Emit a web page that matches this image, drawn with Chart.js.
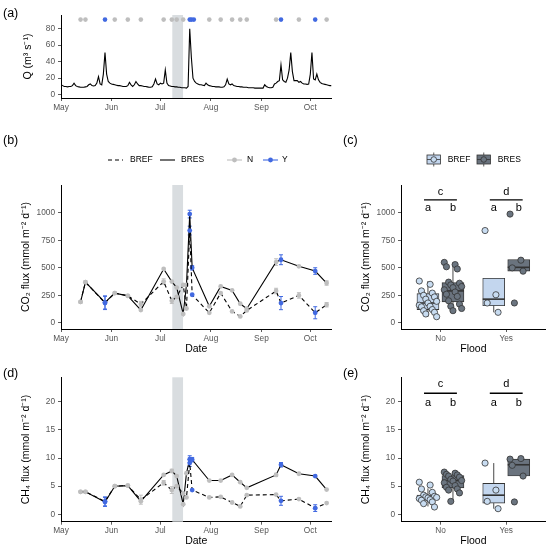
<!DOCTYPE html>
<html>
<head>
<meta charset="utf-8">
<title>Discharge and CO2 / CH4 fluxes</title>
<script src="https://cdn.jsdelivr.net/npm/chart.js@4.4.1/dist/chart.umd.min.js"></script>
<style>
  html, body { margin: 0; padding: 0; background: #fff; }
  #fig { position: relative; width: 550px; height: 549px; overflow: hidden; font-family: "Liberation Sans", Arial, sans-serif; }
  #fig canvas { position: absolute; }
  .panel { position: absolute; font-size: 12.5px; line-height: 14px; color: #000; z-index: 2; }
</style>
</head>
<body>
<div id="fig">
  <canvas id="qChart" width="340" height="115" style="left:0;top:0"></canvas>
  <canvas id="co2Line" width="340" height="225" style="left:0;top:135px"></canvas>
  <canvas id="co2Box" width="210" height="225" style="left:340px;top:135px"></canvas>
  <canvas id="ch4Line" width="340" height="189" style="left:0;top:360px"></canvas>
  <canvas id="ch4Box" width="210" height="189" style="left:340px;top:360px"></canvas>
  <div class="panel" style="left:3px;top:6px">(a)</div>
  <div class="panel" style="left:3px;top:133px">(b)</div>
  <div class="panel" style="left:343px;top:133px">(c)</div>
  <div class="panel" style="left:3px;top:366px">(d)</div>
  <div class="panel" style="left:343px;top:366px">(e)</div>
</div>
<script>
// ---- data (days counted from 1 May) ----
const monthDays = [0, 31, 61, 92, 123, 153];
const monthLabels = ['May', 'Jun', 'Jul', 'Aug', 'Sep', 'Oct'];
const pulseStart = 68.3;
const pulseEnd = 74.9;

// daily discharge Q (m3 s-1)
const discharge = [
  12, 11, 10, 10, 9.5, 10, 10, 11, 14, 11,
  10, 9.5, 9, 9, 9, 9.5, 10, 12, 13, 11,
  10.5, 11, 14, 22, 13, 12, 25, 51, 25, 16,
  14, 13, 12.5, 12, 11.5, 11, 11, 10.5, 10, 10,
  10, 11, 15, 12, 10, 12, 16, 13, 11, 11,
  10.5, 10, 10, 9.5, 9, 9, 9.5, 13, 19, 13,
  12, 14, 13, 14, 30, 14, 11, 10.5, 10, 10,
  9.5, 9.5, 9, 9, 8.5, 8.5, 8.5, 8, 10, 80,
  45, 20, 16, 14, 13, 12, 12, 11.5, 11, 14,
  12, 11, 10.5, 10, 10, 9.5, 9.5, 9.5, 9, 9,
  9.5, 12, 19, 13, 12, 13, 11, 10.5, 10, 10,
  9.5, 9.5, 9, 9, 9, 8.5, 8.5, 8.5, 8.5, 8,
  8, 8, 8, 8, 8, 12, 10, 9, 8.5, 8.5,
  9, 13, 14, 16, 17, 36, 18, 16, 15, 20,
  30, 51, 28, 17, 17, 17, 15, 16, 14, 13,
  13, 12.5, 13, 25, 51, 19, 18, 25, 18, 15,
  13.5, 13, 12.5, 12, 11.5, 11, 11
];

// sampling dates marked on top of panel (a)
const qSampleDays = [12, 15, 27, 33, 41, 49, 63, 68, 71, 75, 79, 80, 81.5, 91, 98, 105, 110, 114, 132, 135, 146, 156, 163];
const qSampleFlood = ['N', 'N', 'Y', 'N', 'N', 'N', 'N', 'N', 'N', 'N', 'Y', 'Y', 'Y', 'N', 'N', 'N', 'N', 'N', 'N', 'Y', 'N', 'Y', 'N'];
const qSampleLevel = 91;

// flux time series
const seriesNames = ['BREF', 'BRES'];
const floodNames = ['N', 'Y'];
const fluxDays = [12, 15, 27, 33, 41, 49, 63, 68, 71, 75, 77, 79, 80.5, 91, 98, 105, 110, 114, 132, 135, 146, 156, 163];
const fluxFlood = ['N', 'N', 'Y', 'N', 'N', 'N', 'N', 'N', 'N', 'N', 'N', 'Y', 'Y', 'N', 'N', 'N', 'N', 'N', 'N', 'Y', 'N', 'Y', 'N'];
const co2Bref = [190, 370, 180, 270, 245, 170, 375, 200, 235, 345, 130, 840, 255, 90, 270, 103, 58, 112, 289, 179, 249, 91, 164];
const co2Bres = [190, 370, 185, 270, 245, 115, 490, 375, 320, 80, 345, 990, 500, 150, 331, 295, 173, 128, 553, 574, 514, 471, 362];
const co2BrefSe = [0, 0, 60, 0, 0, 25, 25, 25, 0, 0, 0, 40, 0, 0, 0, 0, 0, 0, 25, 60, 25, 55, 20];
const co2BresSe = [0, 0, 60, 0, 0, 0, 0, 0, 0, 0, 0, 35, 20, 0, 0, 0, 0, 0, 30, 45, 0, 30, 20];
const ch4Bref = [4.0, 4.0, 2.3, 5.0, 5.1, 2.6, 5.6, 4.3, 5.0, 3.7, 3.0, 9.1, 4.3, 3.0, 3.1, 2.1, 1.4, 3.4, 3.5, 2.4, 2.7, 1.1, 2.0];
const ch4Bres = [4.0, 4.0, 2.2, 5.0, 5.1, 2.3, 7.0, 7.7, 6.8, 1.8, 7.3, 9.8, 9.7, 6.0, 6.0, 7.0, 5.7, 4.7, 7.0, 8.8, 7.2, 6.8, 4.4];
const ch4BrefSe = [0, 0, 0.8, 0, 0, 0.8, 0.4, 0.6, 0, 0, 0, 0.6, 0, 0, 0, 0, 0, 0, 0, 0.8, 0, 0.6, 0];
const ch4BresSe = [0, 0, 0.8, 0, 0, 0, 0, 0.3, 0, 0, 0, 0.6, 0.4, 0, 0, 0, 0, 0, 0.3, 0.4, 0, 0, 0];

// box plots by flood (order: No-BREF, No-BRES, Yes-BREF, Yes-BRES)
const floodLabels = ['No', 'Yes'];
const groupLetters = ['c', 'd'];
const siteLetters = ['a', 'b'];
const co2NoBref = [380, 350, 290, 270, 250, 235, 215, 195, 180, 160, 150, 145, 120, 110, 95, 80, 55];
const co2NoBres = [550, 530, 510, 490, 370, 360, 345, 330, 320, 300, 280, 260, 240, 200, 170, 150, 130, 110];
const co2YesBref = [840, 255, 180, 95];
const co2YesBres = [990, 570, 500, 470, 180];
const co2Q1 = [120, 190, 155, 470];
const co2Median = [180, 290, 215, 505];
const co2Q3 = [265, 365, 405, 575];
const co2WhiskerLow = [55, 110, 95, 470];
const co2WhiskerHigh = [380, 550, 405, 575];

const ch4NoBref = [5.7, 5.2, 4.5, 3.9, 3.4, 3.2, 3.1, 3.0, 2.9, 2.8, 2.6, 2.5, 2.2, 1.9, 1.3];
const ch4NoBres = [7.5, 7.3, 7.1, 7.0, 6.8, 6.6, 6.2, 6.0, 5.9, 5.6, 5.1, 4.8, 4.5, 4.3, 3.8, 2.3];
const ch4YesBref = [9.1, 4.3, 2.3, 1.0];
const ch4YesBres = [9.8, 9.9, 8.7, 6.8, 2.2];
const ch4Q1 = [2.6, 4.7, 2.0, 6.8];
const ch4Median = [3.1, 6.0, 3.4, 8.8];
const ch4Q3 = [3.4, 6.9, 5.5, 9.8];
const ch4WhiskerLow = [1.4, 2.3, 1.0, 6.8];
const ch4WhiskerHigh = [4.6, 7.6, 9.1, 9.9];

// ---- styling ----
const GREY = '#bebebe';
const BLUE = '#4169e1';
const REF_FILL = '#c3d6ee';
const RES_FILL = '#6a737e';
const REF_POINT = '#c8dcf1';
const RES_POINT = '#6b7580';
const TICK_COLOR = '#555';
const FONT = '"Liberation Sans", Arial, sans-serif';
const DODGE = 0.19;
const boxX = [1 - DODGE, 1 + DODGE, 2 - DODGE, 2 + DODGE];

Chart.defaults.font.family = FONT;
Chart.defaults.animation = false;
Chart.defaults.responsive = false;
Chart.defaults.maintainAspectRatio = false;
Chart.defaults.plugins.legend.display = false;
Chart.defaults.plugins.tooltip.enabled = false;
Chart.defaults.layout.autoPadding = false;

function axisCommon() {
  return {
    grid: {display: true, drawOnChartArea: false, drawTicks: true, tickLength: 3, tickColor: '#333', tickWidth: 0.8, offset: false},
    border: {display: true, color: '#000', width: 1}
  };
}

function valueAxis(min, max, tickValues, title, titlePad) {
  return Object.assign(axisCommon(), {
    type: 'linear', min: min, max: max,
    afterBuildTicks: s => { s.ticks = tickValues.map(v => ({value: v})); },
    afterFit: s => { s.width = 61; s.paddingTop = 0; s.paddingBottom = 0; },
    ticks: {color: TICK_COLOR, font: {size: 8.3}, padding: 3, callback: v => String(v)},
    title: {display: true, text: title, color: '#000', font: {size: 10.5}, padding: {top: titlePad, bottom: 0}}
  });
}

function bottomAxis(min, max, tickValues, tickLabels, height, title, titlePad) {
  return Object.assign(axisCommon(), {
    type: 'linear', min: min, max: max, offset: false,
    afterBuildTicks: s => { s.ticks = tickValues.map(v => ({value: v})); },
    afterFit: s => { s.height = height; s.paddingLeft = 0; s.paddingRight = 0; },
    ticks: {color: TICK_COLOR, font: {size: 8.3}, padding: 1.5, maxRotation: 0, autoSkip: false,
            callback: (v, i) => tickLabels[i]},
    title: {display: !!title, text: title || '', color: '#000', font: {size: 10.5}, padding: {top: 0, bottom: titlePad}}
  });
}

// grey band for the flood pulse
const pulseShade = {
  id: 'pulseShade',
  beforeDatasetsDraw(chart) {
    const {ctx, chartArea: a, scales: {x}} = chart;
    const x0 = x.getPixelForValue(pulseStart), x1 = x.getPixelForValue(pulseEnd);
    ctx.save();
    ctx.fillStyle = '#d9dde0';
    ctx.fillRect(x0, a.top, x1 - x0, a.bottom - a.top);
    ctx.restore();
  }
};

// standard error bars, read from dataset.errors
const errorBars = {
  id: 'errorBars',
  beforeDatasetsDraw(chart) {
    const {ctx, scales: {x, y}} = chart;
    chart.data.datasets.forEach(ds => {
      if (!ds.errors) return;
      ds.data.forEach((p, i) => {
        const e = ds.errors[i];
        if (!e) return;
        const px = x.getPixelForValue(p.x);
        const top = y.getPixelForValue(p.y + e), bot = y.getPixelForValue(p.y - e);
        ctx.save();
        ctx.strokeStyle = ds.pointBackgroundColor[i];
        ctx.lineWidth = 1;
        ctx.beginPath();
        ctx.moveTo(px, top); ctx.lineTo(px, bot);
        ctx.moveTo(px - 2, top); ctx.lineTo(px + 2, top);
        ctx.moveTo(px - 2, bot); ctx.lineTo(px + 2, bot);
        ctx.stroke();
        ctx.restore();
      });
    });
  }
};

// legend above panel (b)
const lineLegend = {
  id: 'lineLegend',
  afterDraw(chart) {
    const ctx = chart.ctx, y = 25;
    ctx.save();
    ctx.font = '8.5px ' + FONT;
    ctx.textBaseline = 'middle';
    function seg(x0, dash, color) {
      ctx.strokeStyle = color; ctx.lineWidth = 1.1; ctx.setLineDash(dash);
      ctx.beginPath(); ctx.moveTo(x0, y); ctx.lineTo(x0 + 15, y); ctx.stroke();
      ctx.setLineDash([]);
    }
    function dot(cx, color) {
      ctx.fillStyle = color; ctx.beginPath(); ctx.arc(cx, y, 2.4, 0, Math.PI * 2); ctx.fill();
    }
    seg(108, [4, 3], '#000');
    ctx.fillStyle = '#000'; ctx.fillText(seriesNames[0], 130, y);
    seg(160, [], '#000');
    ctx.fillStyle = '#000'; ctx.fillText(seriesNames[1], 181, y);
    seg(227, [], GREY); dot(234.5, GREY);
    ctx.fillStyle = '#000'; ctx.fillText(floodNames[0], 247, y);
    seg(263, [], BLUE); dot(270.5, BLUE);
    ctx.fillStyle = '#000'; ctx.fillText(floodNames[1], 282, y);
    ctx.restore();
  }
};

// legend above panel (c)
const boxLegend = {
  id: 'boxLegend',
  afterDraw(chart) {
    const ctx = chart.ctx, y = 24.5;
    const fills = [REF_FILL, RES_FILL], pts = [REF_POINT, RES_POINT], lefts = [87, 137];
    ctx.save();
    ctx.font = '8.5px ' + FONT;
    ctx.textBaseline = 'middle';
    seriesNames.forEach((name, k) => {
      const x0 = lefts[k], cx = x0 + 6.75;
      ctx.strokeStyle = '#333'; ctx.lineWidth = 0.8;
      ctx.beginPath(); ctx.moveTo(cx, y - 7); ctx.lineTo(cx, y + 7); ctx.stroke();
      ctx.fillStyle = fills[k];
      ctx.fillRect(x0, y - 4.5, 13.5, 9);
      ctx.strokeRect(x0, y - 4.5, 13.5, 9);
      ctx.beginPath(); ctx.moveTo(x0, y); ctx.lineTo(x0 + 13.5, y); ctx.stroke();
      ctx.fillStyle = pts[k];
      ctx.beginPath(); ctx.arc(cx, y, 2.8, 0, Math.PI * 2); ctx.fill(); ctx.stroke();
      ctx.fillStyle = '#000';
      ctx.fillText(name, x0 + 20.7, y);
    });
    ctx.restore();
  }
};

// whiskers and medians, drawn right after the box bars
function boxParts(q1, med, q3, lo, hi) {
  return {
    id: 'boxParts',
    afterDatasetDraw(chart, args) {
      if (args.index !== 1) return;
      const {ctx, scales: {x, y}} = chart;
      ctx.save();
      ctx.strokeStyle = '#333';
      boxX.forEach((cx, g) => {
        const px = x.getPixelForValue(cx);
        ctx.lineWidth = 0.9;
        ctx.beginPath();
        ctx.moveTo(px, y.getPixelForValue(lo[g])); ctx.lineTo(px, y.getPixelForValue(q1[g]));
        ctx.moveTo(px, y.getPixelForValue(q3[g])); ctx.lineTo(px, y.getPixelForValue(hi[g]));
        ctx.stroke();
        ctx.lineWidth = 1.6;
        const ym = y.getPixelForValue(med[g]);
        ctx.beginPath(); ctx.moveTo(px - 11, ym); ctx.lineTo(px + 11, ym); ctx.stroke();
      });
      ctx.restore();
    }
  };
}

// significance letters
function sigLetters(lineY, topY, subY) {
  return {
    id: 'sigLetters',
    afterDatasetsDraw(chart) {
      const {ctx, scales: {x, y}} = chart;
      ctx.save();
      ctx.strokeStyle = '#000'; ctx.fillStyle = '#000'; ctx.lineWidth = 1.3;
      ctx.font = '11px ' + FONT; ctx.textAlign = 'center'; ctx.textBaseline = 'middle';
      groupLetters.forEach((letter, g) => {
        const c = g + 1, yl = y.getPixelForValue(lineY);
        ctx.beginPath();
        ctx.moveTo(x.getPixelForValue(c - 0.25), yl); ctx.lineTo(x.getPixelForValue(c + 0.25), yl);
        ctx.stroke();
        ctx.fillText(letter, x.getPixelForValue(c), y.getPixelForValue(topY));
        ctx.fillText(siteLetters[0], x.getPixelForValue(c - DODGE), y.getPixelForValue(subY));
        ctx.fillText(siteLetters[1], x.getPixelForValue(c + DODGE), y.getPixelForValue(subY));
      });
      ctx.restore();
    }
  };
}

function floodColors(flags) { return flags.map(f => f === 'Y' ? BLUE : GREY); }

function fluxSeries(values, errors, dash) {
  return {
    data: fluxDays.map((d, i) => ({x: d, y: values[i]})),
    errors: errors,
    borderColor: '#000', borderWidth: 1.1, borderDash: dash, tension: 0,
    pointRadius: 2.4, pointBorderWidth: 0, pointBackgroundColor: floodColors(fluxFlood)
  };
}

function jitter(i) { return (((i * 5) % 9) - 4) * 0.033; }

// ---- (a) discharge ----
new Chart(document.getElementById('qChart'), {
  type: 'line',
  data: {datasets: [
    {data: discharge.map((q, d) => ({x: d, y: q})), borderColor: '#000', borderWidth: 1.1, pointRadius: 0, tension: 0},
    {type: 'scatter', data: qSampleDays.map(d => ({x: d, y: qSampleLevel})),
     pointRadius: 2.3, pointBorderWidth: 0, pointBackgroundColor: floodColors(qSampleFlood)}
  ]},
  options: {
    layout: {padding: {left: 0, top: 15, right: 8.5, bottom: 0}},
    scales: {
      x: bottomAxis(0, 166, monthDays, monthLabels, 17, '', 0),
      y: valueAxis(-4, 96.6, [0, 20, 40, 60, 80], 'Q (m³ s⁻¹)', 21.7)
    }
  },
  plugins: [pulseShade]
});

// ---- (b), (d) flux time series ----
function lineChart(id, ref, refSe, res, resSe, yMin, yMax, yTicks, yTitle, padTop, xHeight, xTitlePad, extra) {
  return new Chart(document.getElementById(id), {
    type: 'line',
    data: {datasets: [fluxSeries(ref, refSe, [4, 3]), fluxSeries(res, resSe, [])]},
    options: {
      layout: {padding: {left: 0, top: padTop, right: 8.5, bottom: 0}},
      scales: {
        x: bottomAxis(0, 166, monthDays, monthLabels, xHeight, 'Date', xTitlePad),
        y: valueAxis(yMin, yMax, yTicks, yTitle, 20)
      }
    },
    plugins: [pulseShade, errorBars].concat(extra)
  });
}

lineChart('co2Line', co2Bref, co2BrefSe, co2Bres, co2BresSe, -57, 1255, [0, 250, 500, 750, 1000],
  'CO₂ flux (mmol m⁻² d⁻¹)', 50, 31, 4.4, [lineLegend]);
lineChart('ch4Line', ch4Bref, ch4BrefSe, ch4Bres, ch4BresSe, -1.31, 24.33, [0, 5, 10, 15, 20],
  'CH₄ flux (mmol m⁻² d⁻¹)', 17.3, 27.3, 1.7, []);

// ---- (c), (e) box plots ----
function boxChart(id, groups, q1, med, q3, lo, hi, yMin, yMax, yTicks, yTitle, padTop, xHeight, xTitlePad, sig, extra) {
  const ptFills = [REF_POINT, RES_POINT, REF_POINT, RES_POINT];
  const boxFills = [REF_FILL, RES_FILL, REF_FILL, RES_FILL];
  const pointData = [], pointColors = [];
  groups.forEach((vals, g) => vals.forEach((v, i) => {
    pointData.push({x: boxX[g] + jitter(i), y: v});
    pointColors.push(ptFills[g]);
  }));
  return new Chart(document.getElementById(id), {
    type: 'scatter',
    data: {datasets: [
      {type: 'scatter', data: pointData, order: 0, pointRadius: 3.1,
       pointBackgroundColor: pointColors, pointBorderColor: '#333', pointBorderWidth: 0.8},
      {type: 'bar', order: 1, data: boxX.map((x, g) => ({x: x, y: [q1[g], q3[g]]})),
       backgroundColor: boxFills, borderColor: '#333', borderWidth: 0.9, borderSkipped: false,
       barThickness: 22, grouped: false}
    ]},
    options: {
      layout: {padding: {left: 0, top: padTop, right: 4.3, bottom: 0}},
      scales: {
        x: bottomAxis(0.4, 2.6, [1, 2], floodLabels, xHeight, 'Flood', xTitlePad),
        y: valueAxis(yMin, yMax, yTicks, yTitle, 19.5)
      }
    },
    plugins: [boxParts(q1, med, q3, lo, hi), sigLetters(sig[0], sig[1], sig[2])].concat(extra)
  });
}

boxChart('co2Box', [co2NoBref, co2NoBres, co2YesBref, co2YesBres],
  co2Q1, co2Median, co2Q3, co2WhiskerLow, co2WhiskerHigh,
  -57, 1255, [0, 250, 500, 750, 1000], 'CO₂ flux (mmol m⁻² d⁻¹)', 50, 31, 4.4,
  [1120, 1190, 1050], [boxLegend]);

boxChart('ch4Box', [ch4NoBref, ch4NoBres, ch4YesBref, ch4YesBres],
  ch4Q1, ch4Median, ch4Q3, ch4WhiskerLow, ch4WhiskerHigh,
  -1.31, 24.33, [0, 5, 10, 15, 20], 'CH₄ flux (mmol m⁻² d⁻¹)', 17.3, 27.3, 1.7,
  [21.5, 23.1, 19.8], []);
</script>
</body>
</html>
